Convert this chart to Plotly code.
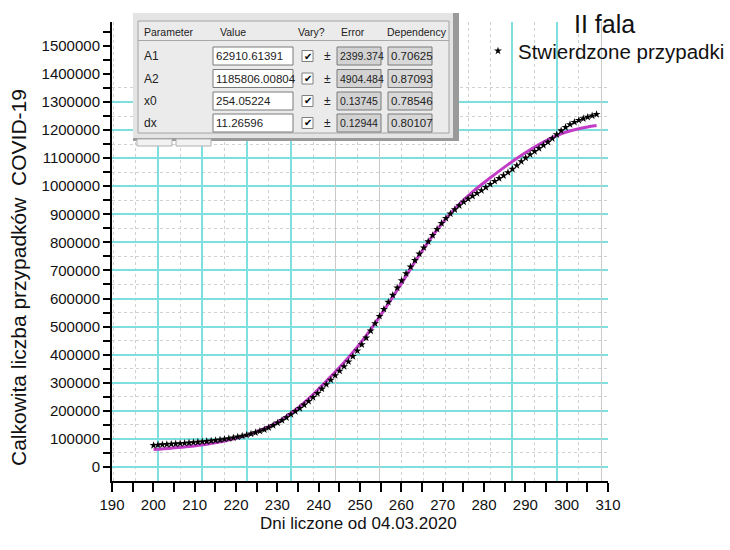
import plotly.graph_objects as go

# ---------------- data ----------------
days = list(range(199, 300))
cases = [
    77000, 78500, 79500, 80500, 81500, 82500, 83500, 84700, 86000, 87300,
    88700, 90000, 91500, 93000, 94800, 96800, 99000, 101500, 104000, 107000,
    110500, 114000, 118000, 122500, 127500, 133000, 140000, 148000, 157000, 166000,
    176000, 187000, 198000, 209000, 221000, 234000, 248000, 262000, 278000, 294000,
    310000, 326000, 342000, 358000, 375000, 394000, 414000, 436000, 460000, 485000,
    511000, 537000, 562000, 587000, 612000, 638000, 664000, 689000, 713000, 736000,
    759000, 781000, 803000, 825000, 847000, 868000, 886000, 902000, 917000, 931000,
    944000, 955000, 965000, 975000, 985000, 996000, 1007000, 1018000, 1028000, 1038000,
    1049000, 1061000, 1074000, 1088000, 1101000, 1113000, 1124000, 1135000, 1146000, 1157000,
    1170000, 1184000, 1198000, 1210000, 1220000, 1228000, 1235000, 1241000, 1246000, 1251000,
    1256000,
]
fit_days = [199, 203, 207, 211, 215, 219, 223, 227, 231, 235, 239, 243, 247, 251,
            255, 259, 263, 267, 271, 275, 279, 283, 287, 291, 295, 299]
fit_vals = [62000, 67000, 73000, 81000, 92000, 108000, 130000, 160000, 203000, 258000,
            322000, 390000, 468000, 558000, 655000, 755000, 845000, 920000, 980000,
            1030000, 1077000, 1120000, 1157000, 1187000, 1205000, 1216000]

x_tick_vals = list(range(190, 311, 10))
y_tick_vals = list(range(0, 1500001, 100000))

param_names = ["A1", "A2", "x0", "dx"]
param_values = ["62910.61391", "1185806.00804", "254.05224", "11.26596"]
param_errors = ["2399.374", "4904.484", "0.13745", "0.12944"]
param_dep = ["0.70625", "0.87093", "0.78546", "0.80107"]
table_headers = ["Parameter", "Value", "Vary?", "Error", "Dependency"]

# ---------------- geometry helpers (pixel -> paper) ----------------
W, H = 730, 550
L, R, T, B = 112, 608, 22, 481


def pxx(x):
    return (x - L) / (R - L)


def pxy(y):
    return (B - y) / (B - T)


FONT = "Liberation Sans, Arial, sans-serif"
CYAN = "#7fdede"

fig = go.Figure()

fig.add_trace(go.Scatter(
    x=fit_days, y=fit_vals, mode="lines", line=dict(color="#c23cc8", width=3, shape="spline"),
    showlegend=False, hoverinfo="skip"))
fig.add_trace(go.Scatter(
    x=days, y=cases, mode="markers", name="Stwierdzone przypadki",
    marker=dict(symbol="star", size=6, color="black", line=dict(width=0))))
# helper traces so the overlay axes are drawn
fig.add_trace(go.Scatter(x=[None], y=[None], xaxis="x2", yaxis="y", showlegend=False, hoverinfo="skip"))
fig.add_trace(go.Scatter(x=[None], y=[None], xaxis="x3", yaxis="y", showlegend=False, hoverinfo="skip"))
fig.add_trace(go.Scatter(x=[None], y=[None], xaxis="x", yaxis="y2", showlegend=False, hoverinfo="skip"))

data_xrange = [189.62, 301.58]
yrange = [-50000, 1585000]

fig.update_layout(
    width=W, height=H,
    margin=dict(l=L, r=W - R, t=T, b=H - B, autoexpand=False),
    paper_bgcolor="white", plot_bgcolor="white",
    font=dict(family=FONT, color="#111"),
    showlegend=True,
    legend=dict(x=pxx(478), y=pxy(31), xanchor="left", yanchor="top",
                font=dict(size=20.5, family=FONT, color="#111"), bgcolor="rgba(0,0,0,0)",
                itemclick=False),
    xaxis=dict(range=data_xrange, tickmode="array", tickvals=[200, 210, 220, 230, 280, 290],
               showticklabels=False, ticks="", showgrid=True, gridcolor=CYAN, gridwidth=1.5,
               zeroline=False, showline=False,
               minor=dict(tick0=195, dtick=5, showgrid=True, gridcolor="#d0d0d0",
                          griddash="dot", gridwidth=1, ticks="")),
    xaxis3=dict(range=data_xrange, overlaying="x", anchor="y", tickmode="array",
                tickvals=[240, 250, 300], showticklabels=False, ticks="", showgrid=True,
                gridcolor="#c9c9c9", gridwidth=1.2, zeroline=False, showline=False),
    xaxis2=dict(range=[190, 310], overlaying="x", anchor="y", side="bottom",
                tickmode="array", tickvals=x_tick_vals, ticks="outside", ticklen=9,
                tickwidth=2, tickcolor="black", showline=True, linecolor="black", linewidth=2,
                showgrid=False, zeroline=False,
                tickfont=dict(size=15, family=FONT, color="#111"),
                minor=dict(tickmode="array", tickvals=list(range(195, 310, 10)),
                           ticks="outside", ticklen=9, tickwidth=2, tickcolor="black",
                           showgrid=False)),
    yaxis=dict(range=yrange, tickmode="array", tickvals=list(range(0, 1300001, 100000)),
               showticklabels=False, ticks="", showgrid=True, gridcolor=CYAN, gridwidth=1.5,
               zeroline=False, showline=False,
               minor=dict(tickmode="array", tickvals=list(range(50000, 1350001, 100000)),
                          showgrid=True, gridcolor="#d0d0d0", griddash="dot", gridwidth=1,
                          ticks="")),
    yaxis2=dict(range=yrange, overlaying="y", anchor="x", side="left",
                tickmode="array", tickvals=y_tick_vals, ticktext=[str(v) for v in y_tick_vals],
                ticks="outside", ticklen=7, tickwidth=2, tickcolor="black",
                showline=True, linecolor="black", linewidth=2, showgrid=False, zeroline=False,
                tickfont=dict(size=15, family=FONT, color="#111"),
                minor=dict(tickmode="array", tickvals=list(range(50000, 1550001, 100000)),
                           ticks="outside", ticklen=7, tickwidth=2, tickcolor="black",
                           showgrid=False)),
)

annotations = []
shapes = []

# axis titles
annotations.append(dict(text="Dni liczone od 04.03.2020", xref="paper", yref="paper",
                        x=pxx(358), y=pxy(523), xanchor="center", yanchor="middle",
                        showarrow=False, font=dict(size=17, family=FONT, color="#111")))
annotations.append(dict(text="Calkowita liczba przypadków\u00a0 COVID-19", xref="paper", yref="paper",
                        x=pxx(18), y=pxy(278), xanchor="center", yanchor="middle", textangle=-90,
                        showarrow=False, font=dict(size=21, family=FONT, color="#111")))
annotations.append(dict(text="II fala", xref="paper", yref="paper", x=pxx(604), y=pxy(24),
                        xanchor="center", yanchor="middle", showarrow=False,
                        font=dict(size=25, family=FONT, color="#111")))


def rect(x0, y0, x1, y1, fill, line=None, lw=1):
    shapes.append(dict(type="rect", xref="paper", yref="paper",
                       x0=pxx(x0), x1=pxx(x1), y0=pxy(y1), y1=pxy(y0),
                       fillcolor=fill, line=dict(color=line or fill, width=lw if line else 0),
                       layer="above"))


def txt(s, x, y, size=11, anchor="left", fam=FONT, color="#222"):
    annotations.append(dict(text=s, xref="paper", yref="paper", x=pxx(x), y=pxy(y),
                            xanchor=anchor, yanchor="middle", showarrow=False,
                            font=dict(size=size, family=fam, color=color)))


# parameter table panel
rect(133, 13, 459, 141, "#9a9a9a")
rect(133, 13, 453, 138, "#e4e4e4")
rect(138, 21, 449, 133, "#ebebeb", "#a4a4a4", 1)
shapes.append(dict(type="line", xref="paper", yref="paper", x0=pxx(138), x1=pxx(449),
                   y0=pxy(40.5), y1=pxy(40.5), line=dict(color="#a8a8a8", width=1), layer="above"))
rect(137, 139, 172, 146, "#f2f2f2", "#b0b0b0", 1)
rect(176, 139, 211, 146, "#f2f2f2", "#b0b0b0", 1)

header_x = [142, 218, 296, 339, 385]
for h, hx in zip(table_headers, header_x):
    txt(h, hx, 32, size=10.5)

row_y = [56, 78.5, 101, 123]
for name, val, err, dep, ry in zip(param_names, param_values, param_errors, param_dep, row_y):
    txt(name, 142, ry, size=12)
    rect(213, ry - 9, 293, ry + 9, "white", "#7a7a7a", 1)
    txt(val, 214, ry, size=11.5)
    rect(302, ry - 5.5, 313, ry + 5.5, "white", "#808080", 1)
    txt("\u2714", 307.5, ry, size=10, anchor="center", fam="DejaVu Sans", color="#000")
    txt("\u00b1", 327, ry, size=12, anchor="center")
    rect(337, ry - 9, 381, ry + 9, "#d2d2d2", "#7a7a7a", 1)
    txt(err, 338, ry, size=10.5)
    rect(388, ry - 9, 432, ry + 9, "#d8d8d8", "#7a7a7a", 1)
    txt(dep, 389, ry, size=11.5)

fig.update_layout(annotations=annotations, shapes=shapes)

fig.write_html("out.html")
